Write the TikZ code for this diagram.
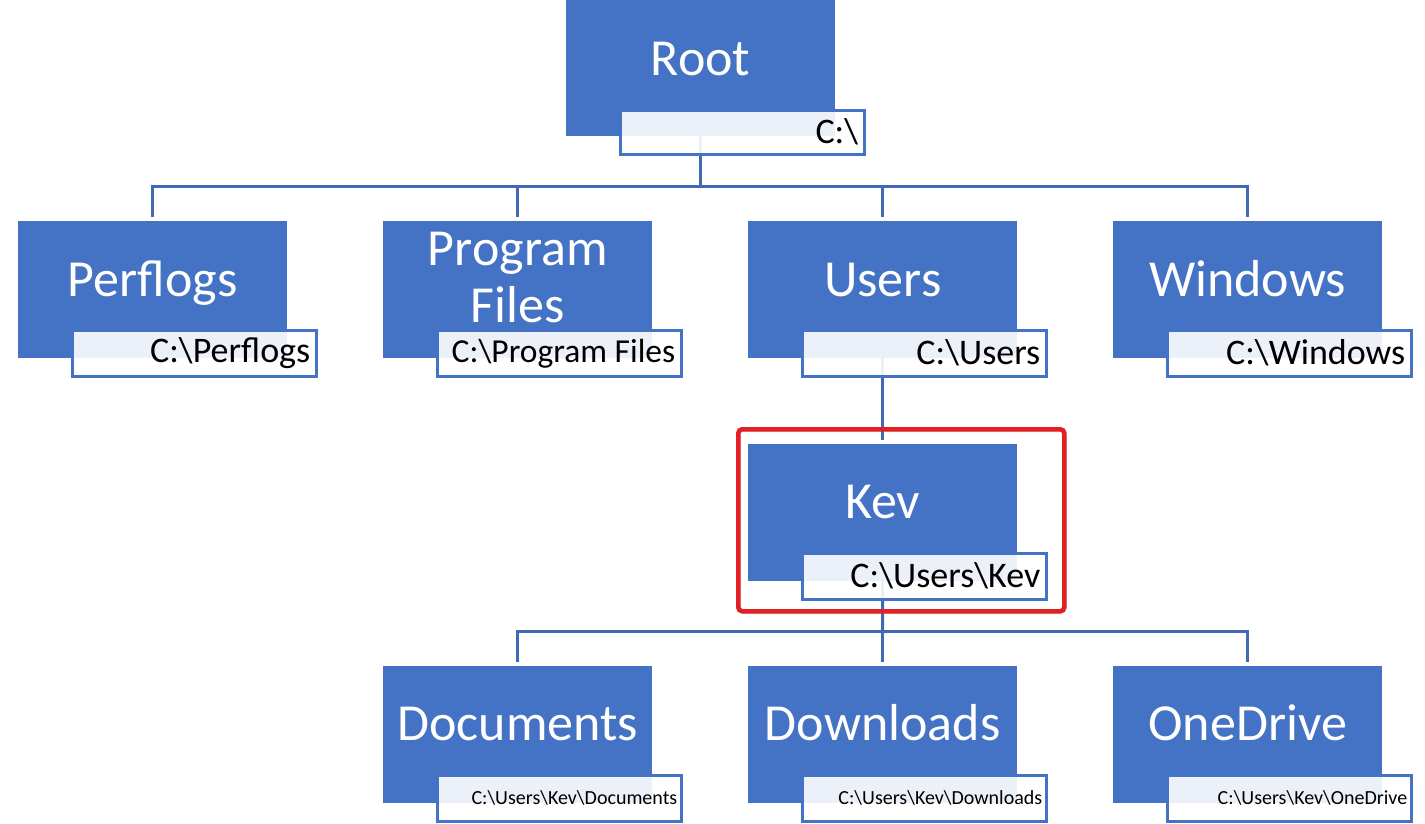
\documentclass[tikz,border=0pt]{standalone}
\usepackage{fontspec}
\setmainfont{Carlito}
\definecolor{boxblue}{RGB}{68,114,196}
\definecolor{lineblue}{RGB}{65,105,180}
\definecolor{selred}{RGB}{227,30,36}
\newcommand\pathtxt[2][232pt]{\makebox[#1][r]{#2}}
\tikzset{
  bluebox/.style={fill=boxblue, draw=none, minimum width=269pt, minimum height=137pt, inner sep=0pt, anchor=north west},
  pathbox/.style={draw=boxblue, line width=2.5pt, fill=white, fill opacity=0.9, text opacity=1, text=black,
     minimum height=46pt, inner xsep=6pt, inner ysep=0pt, anchor=north west},
  bigpath/.style={pathbox, font=\fontsize{36}{40}\selectfont},
  smallpath/.style={pathbox, font=\fontsize{20}{24}\selectfont, inner xsep=4pt},
  title/.style={text=white, font=\fontsize{52}{57}\selectfont, inner sep=0pt, anchor=base},
  conn/.style={draw=lineblue, line width=3pt},
  selbox/.style={draw=selred, line width=4.5pt, rounded corners=4pt, minimum width=326pt, minimum height=182pt, anchor=north west, inner sep=0pt}
}
\begin{document}
\begin{tikzpicture}[x=1pt, y=-1pt]
\useasboundingbox (0,0) rectangle (1425,823);
% blue boxes
\node[bluebox] (root) at (566,-1) {};
\node[bluebox] (perflogs) at (18,221) {};
\node[bluebox] (progfiles) at (383,221) {};
\node[bluebox] (users) at (748,221) {};
\node[bluebox] (windows) at (1113,221) {};
\node[bluebox] (kev) at (748,444) {};
\node[bluebox] (documents) at (383,666) {};
\node[bluebox] (downloads) at (748,666) {};
\node[bluebox] (onedrive) at (1113,666) {};
% bus coordinates
\coordinate (bus1) at (700,186);
\coordinate (bus2) at (882.5,631);
% connectors
\draw[conn] (root.south -| bus1) -- (bus1);
\draw[conn, line cap=rect] (bus1 -| perflogs.north) -- (bus1 -| windows.north);
\foreach \n in {perflogs, progfiles, users, windows}
  \draw[conn, shorten >=4pt] (bus1 -| \n.north) -- (\n.north);
\draw[conn, shorten >=4pt] (users.south) -- (kev.north);
\draw[conn] (kev.south) -- (bus2);
\draw[conn, line cap=rect] (bus2 -| documents.north) -- (bus2 -| onedrive.north);
\foreach \n in {documents, downloads, onedrive}
  \draw[conn, shorten >=4pt] (bus2 -| \n.north) -- (\n.north);
% titles
\node[title] (rootT) at ([yshift=-76pt]root.north) {Root};
\node[title] (perflogsT) at ([yshift=-75pt]perflogs.north) {Perflogs};
\node[title] (progT1) at ([yshift=-44pt]progfiles.north) {Program};
\node[title] (progT2) at ([yshift=-101pt]progfiles.north) {Files};
\node[title] (usersT) at ([yshift=-75pt]users.north) {Users};
\node[title] (windowsT) at ([yshift=-75pt]windows.north) {Windows};
\node[title] (kevT) at ([yshift=-74pt]kev.north) {Kev};
\node[title] (documentsT) at ([yshift=-74pt]documents.north) {Documents};
\node[title] (downloadsT) at ([yshift=-74pt]downloads.north) {Downloads};
\node[title] (onedriveT) at ([yshift=-74pt]onedrive.north) {OneDrive};
% path labels
\node[bigpath, minimum height=44pt] (rootL) at (619,109) {\pathtxt{C:\textbackslash}};
\node[bigpath] (perflogsL) at (71,329) {\pathtxt{C:\textbackslash Perflogs}};
\node[bigpath, font=\fontsize{33.5}{38}\selectfont] (progfilesL) at (436,329) {\pathtxt{C:\textbackslash Program Files}};
\node[bigpath] (usersL) at (801,329) {\pathtxt{C:\textbackslash Users}};
\node[bigpath] (windowsL) at (1166,329) {\pathtxt{C:\textbackslash Windows}};
\node[bigpath] (kevL) at (801,552) {\pathtxt{C:\textbackslash Users\textbackslash Kev}};
\node[smallpath] (documentsL) at (436,774) {\pathtxt[236pt]{C:\textbackslash Users\textbackslash Kev\textbackslash Documents}};
\node[smallpath] (downloadsL) at (801,774) {\pathtxt[236pt]{C:\textbackslash Users\textbackslash Kev\textbackslash Downloads}};
\node[smallpath] (onedriveL) at (1166,774) {\pathtxt[236pt]{C:\textbackslash Users\textbackslash Kev\textbackslash OneDrive}};
% selection frame with faint shadow
\draw[black, opacity=0.12, line width=5pt, rounded corners=4pt] (738.5,429.5) rectangle (1064.5,611.5);
\node[selbox] (sel) at (736,427) {};
\end{tikzpicture}
\end{document}
